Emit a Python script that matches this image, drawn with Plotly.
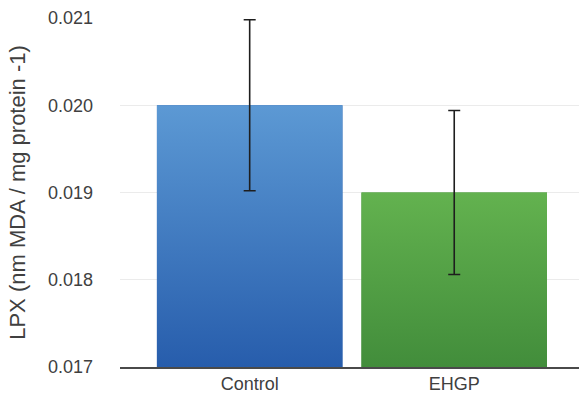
import plotly.graph_objects as go

# LPX measurements per group
groups = ["Control", "EHGP"]
lpx_mean = [0.0200, 0.0190]
lpx_err = [0.00098, 0.00094]

# colour ramps (top -> bottom) for each bar
bar_tops = ["#5c99d4", "#63b24f"]
bar_bottoms = ["#275dac", "#428d3b"]
y_tick_vals = [0.017, 0.018, 0.019, 0.020, 0.021]
y_tick_text = ["0.017", "0.018", "0.019", "0.020", "0.021"]

y_min, y_max = 0.017, 0.021
bar_w = 0.907

fig = go.Figure()

# base bars (solid fill underneath the gradient overlay)
fig.add_trace(go.Bar(
    x=list(range(len(groups))), y=[m - y_min for m in lpx_mean], base=y_min,
    width=bar_w, marker=dict(color=bar_bottoms, line=dict(width=0)),
    hoverinfo="skip", showlegend=False,
))

# vertical gradient fill per bar, built from the same values
for i, m in enumerate(lpx_mean):
    x0, x1 = i - bar_w / 2, i + bar_w / 2
    fig.add_trace(go.Scatter(
        x=[x0, x1, x1, x0, x0], y=[y_min, y_min, m, m, y_min],
        mode="lines", line=dict(width=0), fill="toself",
        fillgradient=dict(
            type="vertical", start=y_min, stop=m,
            colorscale=[[0, bar_bottoms[i]], [1, bar_tops[i]]],
        ),
        hoverinfo="skip", showlegend=False,
    ))

# error bars drawn on top
fig.add_trace(go.Scatter(
    x=list(range(len(groups))), y=lpx_mean, mode="markers",
    marker=dict(size=1, color="rgba(0,0,0,0)"),
    error_y=dict(type="data", array=lpx_err, visible=True,
                 color="#1e1e1e", thickness=1.6, width=6),
    showlegend=False,
))

fig.update_layout(
    width=579, height=397,
    margin=dict(l=120, r=0, t=18, b=30),
    plot_bgcolor="white", paper_bgcolor="white",
    font=dict(family="Liberation Sans, Arial, sans-serif", color="#404040", size=13),
    xaxis=dict(
        range=[-0.634, 1.61], tickmode="array",
        tickvals=list(range(len(groups))), ticktext=groups,
        showgrid=False, zeroline=False, automargin=False,
        showline=True, linecolor="#4a4a4a", linewidth=1.5,
        ticks="", tickfont=dict(size=18), ticklabelstandoff=0,
    ),
    yaxis=dict(
        range=[y_min, y_max], tickmode="array",
        tickvals=y_tick_vals, ticktext=y_tick_text,
        showgrid=True, gridcolor="#ebebeb", gridwidth=1,
        zeroline=False, showline=False, ticks="", automargin=False,
        tickfont=dict(size=18), ticklabelstandoff=26,
        title=dict(text="LPX (nm MDA / mg protein -1)", font=dict(size=22), standoff=16),
    ),
)

fig.write_html("out.html")
